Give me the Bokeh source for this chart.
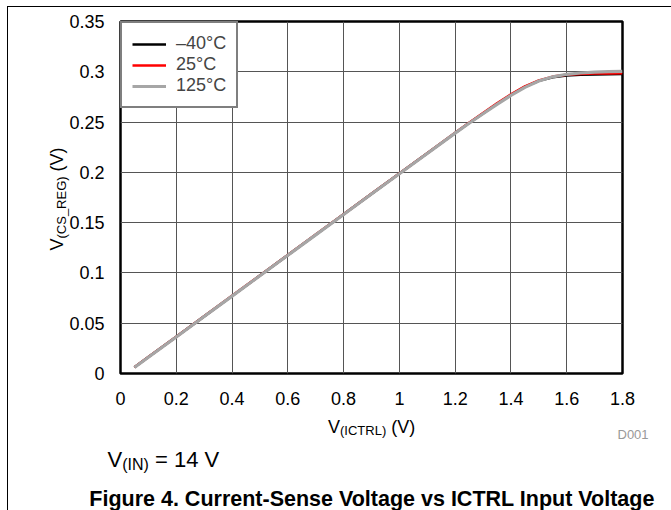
import math
from bokeh.plotting import figure
from bokeh.layouts import column
from bokeh.models import Label, Legend, LegendItem, FixedTicker, Range1d
from bokeh.embed import file_html
from bokeh.resources import INLINE

# ---------------- data ----------------
x_ictrl = [0.05, 0.1, 0.2, 0.3, 0.4, 0.5, 0.6, 0.7, 0.8, 0.9, 1.0, 1.1, 1.2,
           1.25, 1.3, 1.35, 1.4, 1.45, 1.5, 1.55, 1.6, 1.65, 1.7, 1.75, 1.8]
v_m40 = [0.0062, 0.0163, 0.0365, 0.0568, 0.0771, 0.0974, 0.1177, 0.1380, 0.1583,
         0.1786, 0.1988, 0.2190, 0.2392, 0.2490, 0.2585, 0.2680, 0.2770, 0.2850,
         0.2910, 0.2945, 0.2962, 0.2970, 0.2974, 0.2976, 0.2977]
v_25 = [0.0063, 0.0164, 0.0366, 0.0569, 0.0772, 0.0975, 0.1178, 0.1381, 0.1584,
        0.1787, 0.1989, 0.2191, 0.2394, 0.2493, 0.2590, 0.2686, 0.2775, 0.2855,
        0.2915, 0.2952, 0.2970, 0.2978, 0.2982, 0.2984, 0.2985]
v_125 = [0.0060, 0.0161, 0.0363, 0.0566, 0.0769, 0.0972, 0.1175, 0.1378, 0.1581,
         0.1784, 0.1986, 0.2188, 0.2390, 0.2488, 0.2583, 0.2676, 0.2765, 0.2845,
         0.2908, 0.2950, 0.2975, 0.2988, 0.2996, 0.3001, 0.3004]
series_names = ["\u201340\u00b0C", "25\u00b0C", "125\u00b0C"]

x_ticks = [0, 0.2, 0.4, 0.6, 0.8, 1.0, 1.2, 1.4, 1.6, 1.8]
x_tick_labels = ["0", "0.2", "0.4", "0.6", "0.8", "1", "1.2", "1.4", "1.6", "1.8"]
y_ticks = [0, 0.05, 0.1, 0.15, 0.2, 0.25, 0.3, 0.35]
y_tick_labels = ["0", "0.05", "0.1", "0.15", "0.2", "0.25", "0.3", "0.35"]

# ---------------- layout ----------------
OX, OY = 8, 7            # canvas origin on the page (margin + border)
W = 663
H1 = 400                 # chart figure
H2 = 503 - H1            # text strip below
ML, MT = 112, 14
FW, FH = 502, 352
MR = W - ML - FW
MB = H1 - MT - FH
B2 = 30                  # bottom border of the text strip (caption slot)
X0, X1, Y0, Y1 = 0.0, 1.8, 0.0, 0.35
FONT = "Liberation Sans"

p = figure(width=W, height=H1, output_backend="svg", toolbar_location=None,
           x_range=Range1d(X0, X1), y_range=Range1d(Y0, Y1),
           min_border_left=ML, min_border_right=MR, min_border_top=MT,
           min_border_bottom=MB, tools="")

p.outline_line_color = "black"
p.outline_line_width = 2.5
p.grid.grid_line_color = "#555555"
p.grid.grid_line_width = 1
p.xgrid.ticker = FixedTicker(ticks=x_ticks)
p.ygrid.ticker = FixedTicker(ticks=y_ticks)

for ax, ticks, labels, standoff in ((p.xaxis[0], x_ticks, x_tick_labels, 12),
                                    (p.yaxis[0], y_ticks, y_tick_labels, 10)):
    ax.ticker = FixedTicker(ticks=ticks)
    ax.major_label_overrides = {t: l for t, l in zip(ticks, labels)}
    ax.axis_line_color = None
    ax.major_tick_line_color = None
    ax.minor_tick_line_color = None
    ax.major_label_text_font = FONT
    ax.major_label_text_font_size = "18px"
    ax.major_label_text_color = "black"
    ax.major_label_standoff = standoff

colors = ["#000000", "#ff0000", "#a6a6a6"]
widths = [2.5, 2.5, 3.2]
renderers = []
for ys, c, w in zip([v_m40, v_25, v_125], colors, widths):
    renderers.append(p.line(x_ictrl, ys, line_color=c, line_width=w))

legend = Legend(items=[LegendItem(label=n, renderers=[r]) for n, r in zip(series_names, renderers)],
                location="top_left", margin=0, padding=10, spacing=0,
                glyph_width=34, glyph_height=20, label_height=20, label_standoff=10,
                label_text_font=FONT, label_text_font_size="18px",
                border_line_color="black", border_line_width=2,
                background_fill_color="white", background_fill_alpha=1.0)
p.add_layout(legend)


def dx(px):  # page px -> chart data x
    return X0 + (px - OX - ML) / FW * (X1 - X0)


def dy(py):  # page px -> chart data y
    return Y0 + (OY + MT + FH - py) / FH * (Y1 - Y0)


def mk(s, x, y, size, angle=0.0, bold=False, color="black", align="left"):
    return Label(x=x, y=y, text=s, angle=angle,
                 text_font=FONT, text_font_size=f"{size}px",
                 text_font_style="bold" if bold else "normal",
                 text_color=color, text_align=align, text_baseline="alphabetic")


# y-axis label  V(CS_REG) (V), rotated, in the left panel of the chart
yb = 250
p.add_layout(mk("V", dx(56), dy(yb), 18, angle=math.pi / 2), "left")
p.add_layout(mk("(CS_REG)", dx(60.5), dy(yb - 12), 13, angle=math.pi / 2), "left")
p.add_layout(mk("(V)", dx(56), dy(yb - 12 - 62.1 - 5), 18, angle=math.pi / 2), "left")

# ---------------- text strip below the chart (data units = page pixels) ----------------
top2 = OY + H1
p2 = figure(width=W, height=H2, output_backend="svg", toolbar_location=None,
            x_range=Range1d(OX + ML, OX + ML + FW),
            y_range=Range1d(top2 + H2 - B2, top2), tools="",
            x_axis_type=None, y_axis_type=None,
            min_border_left=ML, min_border_right=MR, min_border_top=0,
            min_border_bottom=B2)
p2.outline_line_color = None
p2.grid.visible = False


def t2(s, px, py, size, place="center", **kw):
    p2.add_layout(mk(s, px, py, size, **kw), place)


# x-axis label  V(ICTRL) (V)
xs = 327.5
t2("V", xs, 426, 18)
t2("(ICTRL)", xs + 12, 430, 13)
t2("(V)", xs + 12 + 46.2 + 5, 426, 18)

# D001
t2("D001", 617, 434, 13, place="right", color="#999999")

# V(IN) = 14 V
vx = 107
t2("V", vx, 459, 22, place="left")
t2("(IN)", vx + 14.7, 464, 16)
t2("= 14 V", vx + 14.7 + 26.7 + 6.1, 459, 22)

# caption
t2("Figure 4. Current-Sense Voltage vs ICTRL Input Voltage", 371.5, 498, 21.5,
   place="below", bold=True, align="center")

layout = column(p, p2, spacing=0)
layout.styles = {"margin-left": "7px", "margin-top": "6px",
                 "border-left": "1px solid #000", "border-top": "1px solid #000"}

open("out.html", "w").write(file_html(layout, INLINE))
